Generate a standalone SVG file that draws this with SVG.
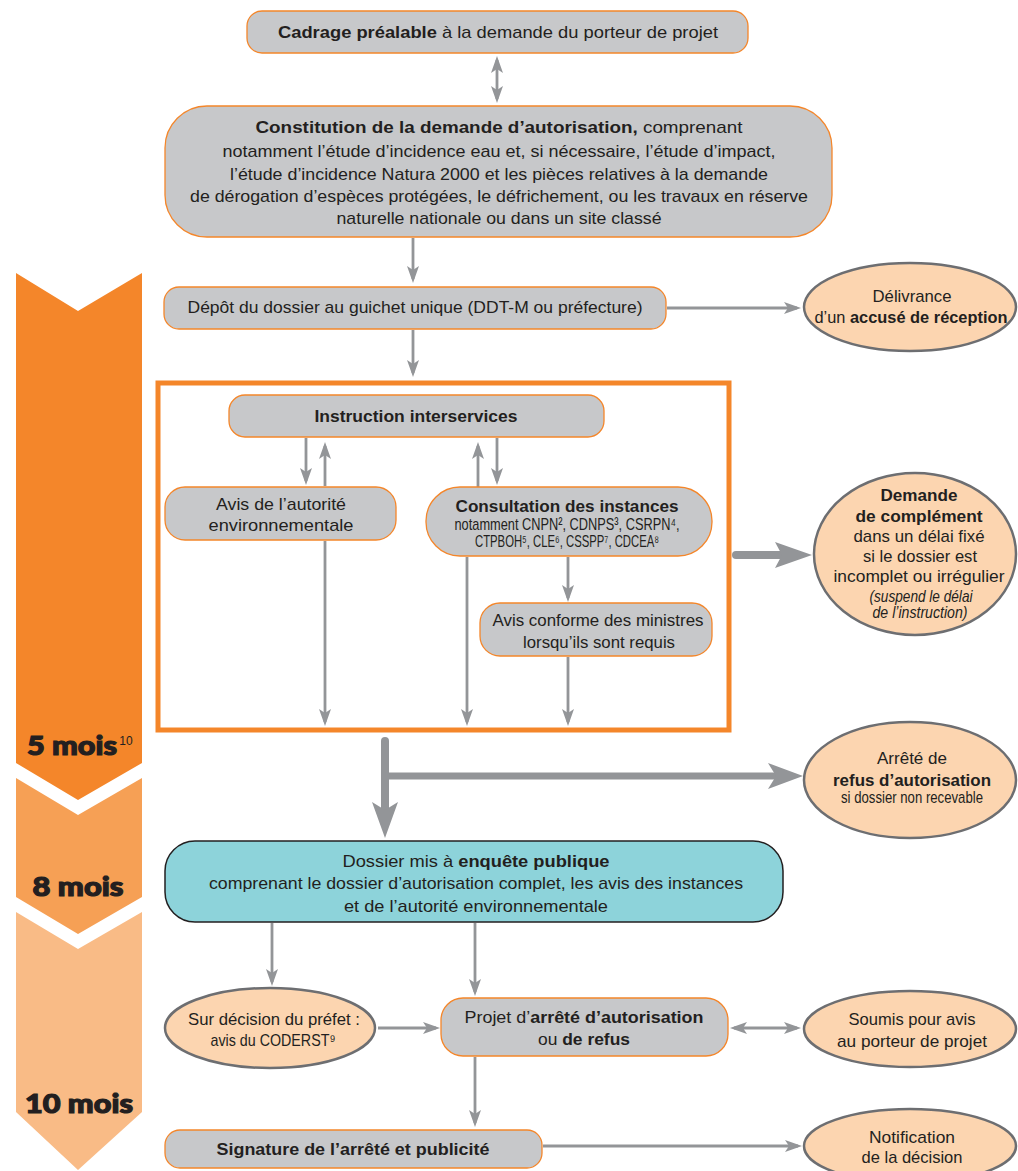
<svg xmlns="http://www.w3.org/2000/svg" width="1018" height="1171" viewBox="0 0 1018 1171">
<style>
.t{font-family:"Liberation Sans",Arial,sans-serif;font-size:17px;fill:#231f20;text-anchor:middle}
.b{font-weight:bold}
.it{font-style:italic}
.box{fill:#c7c8ca;stroke:#f4862a;stroke-width:1.3}
.ell{fill:#fcd5b0;stroke:#6d6e71;stroke-width:2.5}
.teal{fill:#8dd3da;stroke:#231f20;stroke-width:1.5}
.ln{stroke:#939598;stroke-width:2.8;fill:none}
.big{font-family:Lato,"Liberation Sans",sans-serif;font-weight:900;font-size:27px;fill:#231f20;stroke:#231f20;stroke-width:1.2;text-anchor:middle}
</style>
<defs>
<marker id="ah" viewBox="0 0 18 12" refX="13" refY="6" markerWidth="18" markerHeight="12" markerUnits="userSpaceOnUse" orient="auto-start-reverse"><path d="M0,0 L17,6 L0,12 L4,6 z" fill="#939598"/></marker>
</defs>

<g id="timeline">
<polygon points="16,273 78,311 142,273 142,763 78,800 16,763" fill="#f4862a"/>
<polygon points="16,778 78,815 142,778 142,897 78,934 16,897" fill="#f6a055"/>
<polygon points="16,912 78,949 142,912 142,1112 78,1170 16,1112" fill="#f9bb86"/>
<text class="big" x="72" y="755" textLength="90" lengthAdjust="spacingAndGlyphs">5 mois</text>
<text x="126" y="745" font-family="Liberation Sans,Arial,sans-serif" font-size="12" fill="#231f20" text-anchor="middle">10</text>
<text class="big" x="78" y="896" textLength="91" lengthAdjust="spacingAndGlyphs">8 mois</text>
<text class="big" x="79" y="1113" textLength="108" lengthAdjust="spacingAndGlyphs">10 mois</text>
</g>

<g id="frame">
<rect x="158" y="383" width="571" height="347" fill="none" stroke="#f4862a" stroke-width="5"/>
</g>

<g id="connectors">
<line class="ln" x1="497" y1="60" x2="497" y2="99" marker-start="url(#ah)" marker-end="url(#ah)"/>
<line class="ln" x1="413" y1="238" x2="413" y2="279" marker-end="url(#ah)"/>
<line class="ln" x1="667" y1="308" x2="797" y2="308" marker-end="url(#ah)"/>
<line class="ln" x1="413" y1="330" x2="413" y2="373" marker-end="url(#ah)"/>
<line class="ln" x1="306" y1="438" x2="306" y2="481" marker-end="url(#ah)"/>
<line class="ln" x1="325" y1="486" x2="325" y2="446" marker-end="url(#ah)"/>
<line class="ln" x1="478" y1="487" x2="478" y2="446" marker-end="url(#ah)"/>
<line class="ln" x1="497" y1="438" x2="497" y2="481" marker-end="url(#ah)"/>
<line class="ln" x1="325" y1="541" x2="325" y2="722" marker-end="url(#ah)"/>
<line class="ln" x1="467" y1="557" x2="467" y2="722" marker-end="url(#ah)"/>
<line class="ln" x1="568" y1="557" x2="568" y2="598" marker-end="url(#ah)"/>
<line class="ln" x1="568" y1="657" x2="568" y2="722" marker-end="url(#ah)"/>
<line x1="736" y1="555" x2="782" y2="555" stroke="#939598" stroke-width="8" stroke-linecap="round"/>
<path d="M775,542 L812,555 L775,568 L782,555 z" fill="#939598"/>
<line x1="385" y1="741" x2="385" y2="810" stroke="#939598" stroke-width="8" stroke-linecap="round"/>
<path d="M372,802 L385,838 L398,802 L385,810 z" fill="#939598"/>
<line x1="385" y1="776" x2="776" y2="776" stroke="#939598" stroke-width="7"/>
<path d="M768,763 L803,776 L768,789 L776,776 z" fill="#939598"/>
<line class="ln" x1="272" y1="923" x2="272" y2="982" marker-end="url(#ah)"/>
<line class="ln" x1="475" y1="923" x2="475" y2="992" marker-end="url(#ah)"/>
<line class="ln" x1="378" y1="1028" x2="436" y2="1028" marker-end="url(#ah)"/>
<line class="ln" x1="734" y1="1028" x2="797" y2="1028" marker-start="url(#ah)" marker-end="url(#ah)"/>
<line class="ln" x1="475" y1="1057" x2="475" y2="1123" marker-end="url(#ah)"/>
<line class="ln" x1="543" y1="1146" x2="798" y2="1146" marker-end="url(#ah)"/>
</g>

<g id="cadrage">
<rect class="box" x="247" y="11" width="501" height="42" rx="15"/>
<text class="t" x="498" y="38" textLength="440" lengthAdjust="spacingAndGlyphs"><tspan class="b">Cadrage préalable</tspan> à la demande du porteur de projet</text>
</g>

<g id="constitution">
<rect class="box" x="165" y="106" width="667" height="131" rx="42"/>
<text class="t" x="499" y="133" textLength="487" lengthAdjust="spacingAndGlyphs"><tspan class="b">Constitution de la demande d’autorisation,</tspan> comprenant</text>
<text class="t" x="499" y="157" textLength="553" lengthAdjust="spacingAndGlyphs">notamment l’étude d’incidence eau et, si nécessaire, l’étude d’impact,</text>
<text class="t" x="499" y="180" textLength="538" lengthAdjust="spacingAndGlyphs">l’étude d’incidence Natura 2000 et les pièces relatives à la demande</text>
<text class="t" x="499" y="202" textLength="618" lengthAdjust="spacingAndGlyphs">de dérogation d’espèces protégées, le défrichement, ou les travaux en réserve</text>
<text class="t" x="499" y="224" textLength="325" lengthAdjust="spacingAndGlyphs">naturelle nationale ou dans un site classé</text>
</g>

<g id="depot">
<rect class="box" x="164" y="287" width="502" height="42" rx="15"/>
<text class="t" x="415" y="313" font-size="18" textLength="455" lengthAdjust="spacingAndGlyphs">Dépôt du dossier au guichet unique (DDT-M ou préfecture)</text>
</g>

<g id="delivrance">
<ellipse class="ell" cx="910" cy="307" rx="106" ry="44"/>
<text class="t" x="912" y="302" textLength="79" lengthAdjust="spacingAndGlyphs">Délivrance</text>
<text class="t" x="911" y="323" textLength="193" lengthAdjust="spacingAndGlyphs">d’un <tspan class="b">accusé de réception</tspan></text>
</g>

<g id="instruction">
<rect class="box" x="229" y="395" width="375" height="42" rx="16"/>
<text class="t b" x="416" y="422" textLength="203" lengthAdjust="spacingAndGlyphs">Instruction interservices</text>
</g>

<g id="avis-ae">
<rect class="box" x="165" y="487" width="231" height="53" rx="20"/>
<text class="t" x="281" y="510" textLength="130" lengthAdjust="spacingAndGlyphs">Avis de l’autorité</text>
<text class="t" x="281" y="531" textLength="145" lengthAdjust="spacingAndGlyphs">environnementale</text>
</g>

<g id="consultation">
<rect class="box" x="426" y="487" width="286" height="69" rx="34"/>
<text class="t b" x="567" y="512" font-size="18" textLength="223" lengthAdjust="spacingAndGlyphs">Consultation des instances</text>
<text class="t" x="567" y="530" font-size="12" textLength="225" lengthAdjust="spacingAndGlyphs">notamment CNPN², CDNPS³, CSRPN⁴,</text>
<text class="t" x="567" y="547" font-size="12" textLength="184" lengthAdjust="spacingAndGlyphs">CTPBOH⁵, CLE⁶, CSSPP⁷, CDCEA⁸</text>
</g>

<g id="avis-conforme">
<rect class="box" x="480" y="603" width="232" height="53" rx="20"/>
<text class="t" x="598" y="626" textLength="211" lengthAdjust="spacingAndGlyphs">Avis conforme des ministres</text>
<text class="t" x="599" y="648" textLength="152" lengthAdjust="spacingAndGlyphs">lorsqu’ils sont requis</text>
</g>

<g id="complement">
<ellipse class="ell" cx="915" cy="554" rx="101" ry="81"/>
<text class="t b" x="919" y="501" font-size="18" textLength="77" lengthAdjust="spacingAndGlyphs">Demande</text>
<text class="t b" x="919" y="522" font-size="18" textLength="127" lengthAdjust="spacingAndGlyphs">de complément</text>
<text class="t" x="919" y="542" textLength="131" lengthAdjust="spacingAndGlyphs">dans un délai fixé</text>
<text class="t" x="920" y="562" textLength="114" lengthAdjust="spacingAndGlyphs">si le dossier est</text>
<text class="t" x="919" y="582" textLength="171" lengthAdjust="spacingAndGlyphs">incomplet ou irrégulier</text>
<text class="t it" x="921" y="602" font-size="11.5" textLength="103" lengthAdjust="spacingAndGlyphs">(suspend le délai</text>
<text class="t it" x="920" y="618" font-size="11.5" textLength="95" lengthAdjust="spacingAndGlyphs">de l’instruction)</text>
</g>

<g id="refus">
<ellipse class="ell" cx="910" cy="780" rx="106" ry="58"/>
<text class="t" x="912" y="764" textLength="70" lengthAdjust="spacingAndGlyphs">Arrêté de</text>
<text class="t b" x="912" y="786" font-size="18" textLength="158" lengthAdjust="spacingAndGlyphs">refus d’autorisation</text>
<text class="t" x="912" y="803" font-size="13" textLength="142" lengthAdjust="spacingAndGlyphs">si dossier non recevable</text>
</g>

<g id="enquete">
<rect class="teal" x="165" y="841" width="618" height="81" rx="30"/>
<text class="t" x="476" y="867" textLength="267" lengthAdjust="spacingAndGlyphs">Dossier mis à <tspan class="b">enquête publique</tspan></text>
<text class="t" x="476" y="889" textLength="534" lengthAdjust="spacingAndGlyphs">comprenant le dossier d’autorisation complet, les avis des instances</text>
<text class="t" x="476" y="912" textLength="264" lengthAdjust="spacingAndGlyphs">et de l’autorité environnementale</text>
</g>

<g id="coderst">
<ellipse class="ell" cx="270" cy="1028" rx="105" ry="40"/>
<text class="t" x="274" y="1025" textLength="172" lengthAdjust="spacingAndGlyphs">Sur décision du préfet :</text>
<text class="t" x="273" y="1046" textLength="125" lengthAdjust="spacingAndGlyphs">avis du CODERST⁹</text>
</g>

<g id="projet">
<rect class="box" x="441" y="998" width="287" height="58" rx="22"/>
<text class="t" x="584" y="1023" textLength="239" lengthAdjust="spacingAndGlyphs">Projet d’<tspan class="b">arrêté d’autorisation</tspan></text>
<text class="t" x="584" y="1045" textLength="92" lengthAdjust="spacingAndGlyphs">ou <tspan class="b">de refus</tspan></text>
</g>

<g id="soumis">
<ellipse class="ell" cx="910" cy="1029" rx="106" ry="38"/>
<text class="t" x="912" y="1025" textLength="127" lengthAdjust="spacingAndGlyphs">Soumis pour avis</text>
<text class="t" x="912" y="1047" textLength="150" lengthAdjust="spacingAndGlyphs">au porteur de projet</text>
</g>

<g id="signature">
<rect class="box" x="165" y="1130" width="377" height="38" rx="15"/>
<text class="t b" x="353" y="1155" textLength="273" lengthAdjust="spacingAndGlyphs">Signature de l’arrêté et publicité</text>
</g>

<g id="notification">
<ellipse class="ell" cx="910" cy="1146" rx="106" ry="37"/>
<text class="t" x="912" y="1143" textLength="86" lengthAdjust="spacingAndGlyphs">Notification</text>
<text class="t" x="912" y="1163" textLength="101" lengthAdjust="spacingAndGlyphs">de la décision</text>
</g>
</svg>
